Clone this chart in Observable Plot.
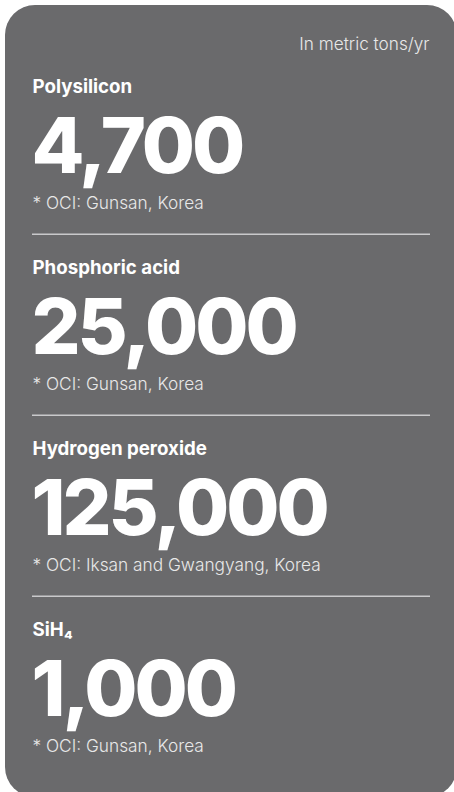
<!DOCTYPE html>
<html>
<head>
<meta charset="utf-8">
<script src="https://cdn.jsdelivr.net/npm/d3@7"></script>
<script src="https://cdn.jsdelivr.net/npm/@observablehq/plot@0.6"></script>
<style>
  html, body { margin: 0; padding: 0; background: #ffffff; width: 454px; height: 792px; overflow: hidden; }
  #card { position: absolute; left: 5px; top: 5px; width: 452px; height: 792px; border-radius: 30px; background: #6a6a6c; }
  #chart { position: absolute; left: 0; top: 0; }
</style>
</head>
<body>
<div id="card"></div>
<div id="chart"></div>
<script>
// Data
const categories = ["Polysilicon", "Phosphoric acid", "Hydrogen peroxide", "SiH₄"];
const capacities = [4700, 25000, 125000, 1000];
const notes = [
  "* OCI: Gunsan, Korea",
  "* OCI: Gunsan, Korea",
  "* OCI: Iksan and Gwangyang, Korea",
  "* OCI: Gunsan, Korea"
];
const unitLabel = "In metric tons/yr";

const rows = categories.map((c, i) => ({category: c, value: capacities[i], note: notes[i]}));
const fmt = d3.format(",");

const W = 454, H = 792;
const top0 = 52.7, step = 181.3;
const half = step / 2;
const font = "Inter, 'Noto Sans', sans-serif";

const chart = Plot.plot({
  width: W,
  height: H,
  margin: 0,
  style: {background: "transparent", fontFamily: font, overflow: "visible"},
  x: {axis: null, domain: [0, 1]},
  y: {type: "band", domain: categories, range: [top0, top0 + step * categories.length], padding: 0, axis: null},
  marks: [
    Plot.ruleY(categories.slice(1), {y: d => d, dy: -half, stroke: "#c9c9cb", strokeWidth: 1.5, insetLeft: 32, insetRight: 24}),
    Plot.text([unitLabel], {text: d => d, frameAnchor: "top-right", dx: -25, dy: 49, lineAnchor: "bottom", textAnchor: "end", fill: "#e8e8e8", fontSize: 17.2, fontWeight: 300, fontFamily: font}),
    Plot.text(rows, {y: "category", text: "category", frameAnchor: "left", dx: 32, dy: 39.5 - half, lineAnchor: "bottom", textAnchor: "start", fill: "#ffffff", fontSize: 18.7, fontWeight: 700, fontFamily: font}),
    Plot.text(rows, {y: "category", text: d => fmt(d.value), frameAnchor: "left", dx: 31, dy: 120 - half, lineAnchor: "bottom", textAnchor: "start", fill: "#ffffff", fontSize: 77, fontWeight: 800, fontFamily: font}),
    Plot.text(rows, {y: "category", text: "note", frameAnchor: "left", dx: 32, dy: 156 - half, lineAnchor: "bottom", textAnchor: "start", fill: "#e8e8e8", fontSize: 17.3, fontWeight: 300, fontFamily: font})
  ]
});
// tighten the big capacity figures
d3.select(chart).selectAll("text")
  .filter(function() { return /^[\d,]+$/.test(this.textContent.trim()); })
  .style("letter-spacing", "-3px");
document.getElementById("chart").appendChild(chart);
</script>
</body>
</html>
